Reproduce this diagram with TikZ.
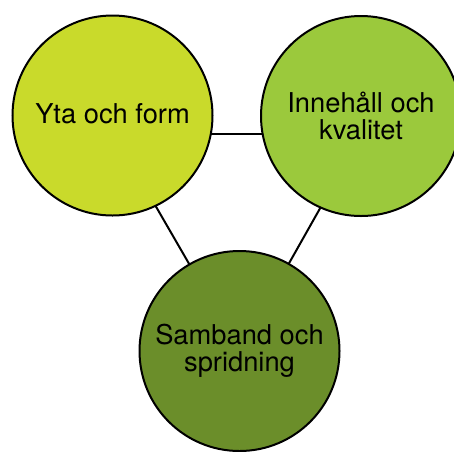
\documentclass[tikz,border=0pt]{standalone}
\usepackage{fontspec}
\setmainfont{TeX Gyre Heros}
\usetikzlibrary{backgrounds,calc}
\definecolor{cA}{HTML}{C9DA2B}
\definecolor{cB}{HTML}{9BC93C}
\definecolor{cC}{HTML}{6B8E2A}
\tikzset{
  bubble/.style={circle, draw=black, line width=2pt, minimum size=200pt, inner sep=0pt,
    align=center, font=\fontsize{27.3}{26.7}\selectfont},
  link/.style={draw=black, line width=2pt}
}
\begin{document}
\begin{tikzpicture}[x=1pt,y=-1pt]
\useasboundingbox (0,0) rectangle (454,451);
\clip (0,0) rectangle (454,451);
\node[bubble, fill=cA] (a) at (112.5,115.5) {\raisebox{3pt}{Yta och form}};
\node[bubble, fill=cB] (b) at (361,116) {Innehåll och\\kvalitet};
\node[bubble, fill=cC] (c) at (239.5,351) {Samband och\\spridning};
\coordinate (ta) at ($(a.center)+(1.5,18.5)$);
\coordinate (tb) at ($(b.center)+(1,18)$);
\begin{pgfonlayer}{background}
\draw[link] (ta) -- (tb);
\draw[link] (ta) -- (c.center);
\draw[link] (tb) -- (c.center);
\end{pgfonlayer}
\end{tikzpicture}
\end{document}
